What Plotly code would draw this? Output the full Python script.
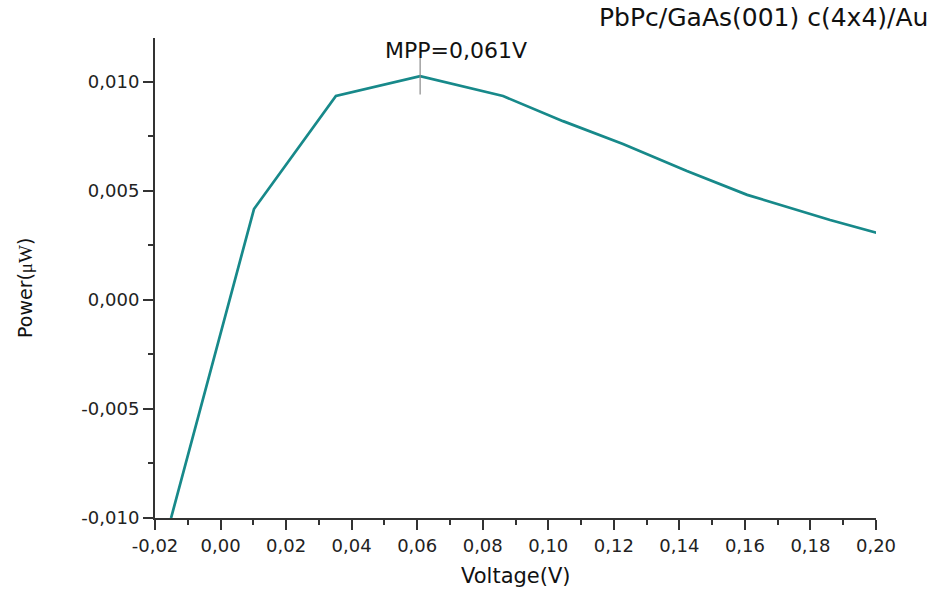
import plotly.graph_objects as go

# Power–voltage curve of the PbPc/GaAs(001) c(4x4)/Au cell
voltage = [-0.0151, 0.0102, 0.0352, 0.0609, 0.0862, 0.1045, 0.1228, 0.1423, 0.1607, 0.186, 0.2003]
power = [-0.0100, 0.00416, 0.00934, 0.01025, 0.00934, 0.00819, 0.00714, 0.0059, 0.00481, 0.00366, 0.00307]

mpp_v = 0.0609
mpp_p = 0.01025

x_ticks = [-0.02, 0.00, 0.02, 0.04, 0.06, 0.08, 0.10, 0.12, 0.14, 0.16, 0.18, 0.20]
x_labels = ["-0,02", "0,00", "0,02", "0,04", "0,06", "0,08", "0,10", "0,12", "0,14", "0,16", "0,18", "0,20"]
y_ticks = [-0.010, -0.005, 0.000, 0.005, 0.010]
y_labels = ["-0,010", "-0,005", "0,000", "0,005", "0,010"]

font = "DejaVu Sans, Liberation Sans, Arial, sans-serif"
axis_col = "#333333"
line_col = "#17898a"
tick_col = "#8a8a8a"

# plot area in pixels: x 155..876, y 38..518
L, R, T, B = 155, 876, 38, 518
W, H = R - L, B - T

fig = go.Figure()
fig.add_trace(go.Scatter(
    x=voltage, y=power, mode="lines",
    line=dict(color=line_col, width=2.7),
    showlegend=False, hoverinfo="x+y",
))
# vertical marker at the maximum power point
fig.add_trace(go.Scatter(
    x=[mpp_v], y=[mpp_p], mode="markers",
    marker=dict(symbol="line-ns-open", size=26, color=tick_col,
                line=dict(color=tick_col, width=1.2)),
    showlegend=False, hoverinfo="skip",
))

fig.add_annotation(
    x=mpp_v, y=mpp_p, xref="x", yref="y",
    text="MPP=0,061V", showarrow=False,
    xanchor="left", yanchor="bottom", xshift=-37, yshift=11,
    font=dict(family=font, size=22, color="#111111"),
)
fig.add_annotation(
    x=(930 - L) / W, y=(B - 18) / H, xref="paper", yref="paper",
    text="PbPc/GaAs(001) c(4x4)/Au", showarrow=False,
    xanchor="right", yanchor="middle",
    font=dict(family=font, size=25, color="#111111"),
)
fig.add_annotation(
    x=(25 - L) / W, y=(B - 288) / H, xref="paper", yref="paper",
    text="Power(<span style='font-family:Liberation Serif, Times New Roman, serif'>μW</span>)",
    showarrow=False, textangle=-90, xanchor="center", yanchor="middle",
    font=dict(family=font, size=19, color="#111111"),
)
fig.add_annotation(
    x=0.5, y=(B - 576) / H, xref="paper", yref="paper",
    text="Voltage(V)", showarrow=False,
    xanchor="center", yanchor="middle",
    font=dict(family=font, size=21, color="#111111"),
)

fig.update_layout(
    width=936, height=592,
    margin=dict(l=L, r=936 - R, t=T, b=592 - B, autoexpand=False),
    paper_bgcolor="white", plot_bgcolor="white",
    font=dict(family=font, size=18, color="#222222"),
)
fig.update_xaxes(
    range=[-0.02, 0.20], tickmode="array", tickvals=x_ticks, ticktext=x_labels,
    showgrid=False, zeroline=False, automargin=False,
    showline=True, linecolor=axis_col, linewidth=2,
    ticks="outside", ticklen=10, tickwidth=1.5, tickcolor=axis_col,
    tickfont=dict(family=font, size=18),
    minor=dict(tickmode="linear", tick0=-0.01, dtick=0.02, ticks="outside",
               ticklen=5, tickwidth=1.5, tickcolor=axis_col, showgrid=False),
)
fig.update_yaxes(
    range=[-0.010, 0.012], tickmode="array", tickvals=y_ticks, ticktext=y_labels,
    showgrid=False, zeroline=False, automargin=False,
    showline=True, linecolor=axis_col, linewidth=2,
    ticks="outside", ticklen=10, tickwidth=1.5, tickcolor=axis_col,
    tickfont=dict(family=font, size=18),
    minor=dict(tickmode="linear", tick0=-0.0075, dtick=0.005, ticks="outside",
               ticklen=5, tickwidth=1.5, tickcolor=axis_col, showgrid=False),
)

fig.write_html("out.html")
